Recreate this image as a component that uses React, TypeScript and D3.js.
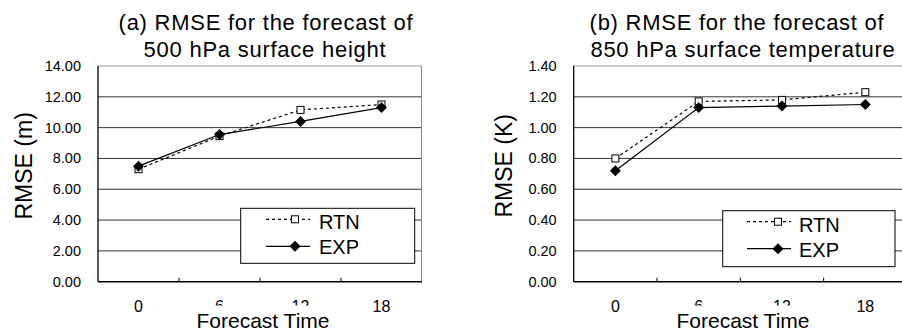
import React from 'react';
import * as d3 from 'd3';

// forecast hours
const categories = ['0', '6', '12', '18'];

// (a) 500 hPa height RMSE (m)
const rtnHeight = [7.3, 9.45, 11.15, 11.5];
const expHeight = [7.5, 9.55, 10.4, 11.3];
const yTicksHeight = [0, 2, 4, 6, 8, 10, 12, 14];

// (b) 850 hPa temperature RMSE (K)
const rtnTemp = [0.8, 1.17, 1.18, 1.23];
const expTemp = [0.72, 1.13, 1.14, 1.15];
const yTicksTemp = [0, 0.2, 0.4, 0.6, 0.8, 1.0, 1.2, 1.4];

const seriesNames = ['RTN', 'EXP'];

const FONT = 'Liberation Sans, Arial, sans-serif';

type PanelProps = {
  left: number;
  right: number;
  top: number;
  bottom: number;
  rtn: number[];
  exp: number[];
  yTicks: number[];
  titleLines: string[];
  titleX: number[];
  yLabel: string;
  yLabelX: number;
  xLabelX: number;
  legend: { x: number; y: number; w: number; h: number; s0: number; s1: number; m: number; tx: number };
};

const square = (x: number, y: number, key: string) => (
  <rect key={key} x={x - 3.5} y={y - 3.5} width={7} height={7} fill="#fff" stroke="#000" strokeWidth={1} />
);

const diamond = (x: number, y: number, key: string) => (
  <path key={key} d={`M${x},${y - 5.5}L${x + 5.5},${y}L${x},${y + 5.5}L${x - 5.5},${y}Z`} fill="#000" />
);

const Panel = (p: PanelProps) => {
  const x = d3.scaleBand().domain(categories).range([p.left, p.right]).padding(0);
  const y = d3.scaleLinear().domain([0, p.yTicks[p.yTicks.length - 1]]).range([p.bottom, p.top]);
  const cx = (c: string) => (x(c) as number) + x.bandwidth() / 2;
  const line = d3.line<number>().x((_, i) => cx(categories[i])).y(d => y(d));

  const lg = p.legend;
  const rowBase = [lg.y + 21, lg.y + 46];

  return (
    <g fontFamily={FONT}>
      {/* title */}
      {p.titleLines.map((t, i) => (
        <text key={t} x={p.titleX[i]} y={30 + i * 26.5} fontSize={22} letterSpacing={0.75} textAnchor="middle">{t}</text>
      ))}

      {/* grid */}
      {p.yTicks.slice(1).map((t, i) => (
        <line key={t} x1={p.left} x2={p.right} y1={y(t)} y2={y(t)}
          stroke={i === p.yTicks.length - 2 ? '#999' : '#333'} strokeWidth={1} />
      ))}
      <line x1={p.right - 0.5} x2={p.right - 0.5} y1={p.top} y2={p.bottom} stroke="#888" />

      {/* y tick labels */}
      {p.yTicks.map(t => (
        <text key={t} x={p.left - 17} y={y(t) + 5} fontSize={14.5} textAnchor="end">{t.toFixed(2)}</text>
      ))}

      {/* axes */}
      <line x1={p.left} x2={p.left} y1={p.top} y2={p.bottom} stroke="#000" strokeWidth={1.3} />
      <line x1={p.left} x2={p.right} y1={p.bottom} y2={p.bottom} stroke="#000" strokeWidth={1.5} />
      {categories.slice(1).map(c => (
        <line key={c} x1={x(c)} x2={x(c)} y1={p.bottom} y2={p.bottom - 4} stroke="#000" />
      ))}

      {/* x tick labels */}
      {categories.map(c => (
        <text key={c} x={cx(c)} y={311.5} fontSize={16} textAnchor="middle">{c}</text>
      ))}

      {/* series */}
      <path d={line(p.rtn) || ''} fill="none" stroke="#000" strokeWidth={1.2} strokeDasharray="3,3" />
      <path d={line(p.exp) || ''} fill="none" stroke="#000" strokeWidth={1.2} />
      {p.rtn.map((v, i) => square(cx(categories[i]), y(v), 'r' + i))}
      {p.exp.map((v, i) => diamond(cx(categories[i]), y(v), 'e' + i))}

      {/* legend */}
      <rect x={lg.x} y={lg.y} width={lg.w} height={lg.h} fill="#fff" stroke="#000" strokeWidth={1} />
      <line x1={lg.s0} x2={lg.s1} y1={rowBase[0] - 10} y2={rowBase[0] - 10} stroke="#000" strokeWidth={1.2} strokeDasharray="3,3" />
      {square(lg.m, rowBase[0] - 10, 'lr')}
      <line x1={lg.s0} x2={lg.s1} y1={rowBase[1] - 8} y2={rowBase[1] - 8} stroke="#000" strokeWidth={1.2} />
      {diamond(lg.m, rowBase[1] - 8, 'le')}
      {seriesNames.map((n, i) => (
        <text key={n} x={lg.tx} y={rowBase[i]} fontSize={20}>{n}</text>
      ))}

      {/* axis titles */}
      <text transform={`translate(${p.yLabelX},${(p.top + p.bottom) / 2 - 8}) rotate(-90)`} fontSize={23} textAnchor="middle">{p.yLabel}</text>
      <rect x={p.xLabelX - 68} y={305.5} width={136} height={26} fill="#fff" />
      <text x={p.xLabelX} y={328} fontSize={21} textAnchor="middle">Forecast Time</text>
    </g>
  );
};

const App = () => (
  <div style={{ position: 'absolute', left: 0, top: 0 }}>
    <svg width={902} height={331} style={{ display: 'block', background: '#fff' }}>
      <Panel
        left={98} right={422} top={66} bottom={281.7}
        rtn={rtnHeight} exp={expHeight} yTicks={yTicksHeight}
        titleLines={['(a) RMSE for the forecast of', '500 hPa surface height']}
        titleX={[266, 265]}
        yLabel="RMSE (m)" yLabelX={32} xLabelX={263}
        legend={{ x: 240.7, y: 208.3, w: 174, h: 55, s0: 266, s1: 310, m: 295, tx: 319 }}
      />
      <Panel
        left={573.7} right={907} top={66} bottom={281.7}
        rtn={rtnTemp} exp={expTemp} yTicks={yTicksTemp}
        titleLines={['(b) RMSE for the forecast of', '850 hPa surface temperature']}
        titleX={[737, 743]}
        yLabel="RMSE (K)" yLabelX={512} xLabelX={743}
        legend={{ x: 722.7, y: 210.7, w: 172.3, h: 56, s0: 747, s1: 791, m: 778, tx: 799 }}
      />
    </svg>
  </div>
);

export default App;
